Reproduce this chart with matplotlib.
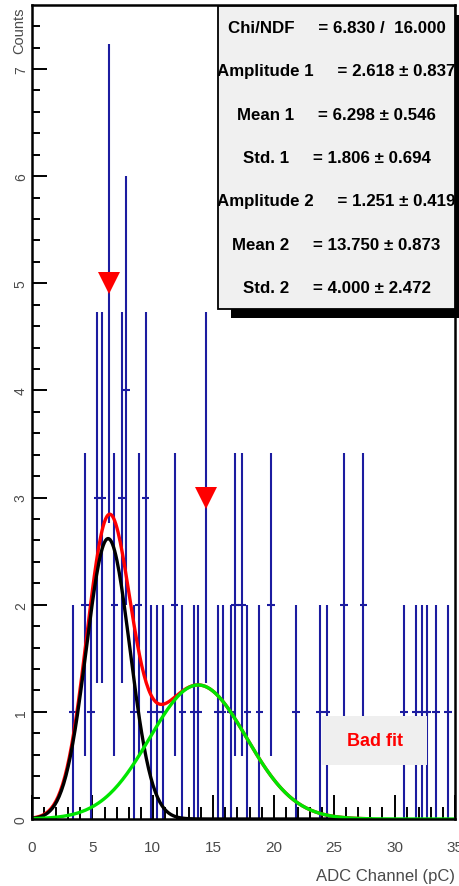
import numpy as np
import matplotlib
matplotlib.use("Agg")
import matplotlib.pyplot as plt
from matplotlib.patches import Rectangle
from matplotlib.ticker import MultipleLocator

plt.rcParams['font.family'] = ['Liberation Sans', 'DejaVu Sans']

# Histogram contents (bin centre in pC, entries per bin)
bin_centers = [3.37, 4.39, 4.88, 5.40, 5.79, 6.40, 6.81, 7.42, 7.78, 8.41,
               8.83, 9.41, 9.85, 10.32, 10.84, 11.81, 12.45, 13.40, 13.76, 14.40,
               15.39, 15.78, 16.44, 16.80, 17.38, 17.83, 18.81, 19.77, 21.84, 23.79,
               24.37, 25.82, 27.41, 30.78, 31.77, 32.27, 32.72, 33.43, 34.42]
counts = [1, 2, 1, 3, 3, 5, 2, 3, 4, 1,
          2, 3, 1, 1, 1, 2, 1, 1, 1, 3,
          1, 1, 1, 2, 2, 1, 1, 2, 1, 1,
          1, 2, 2, 1, 1, 1, 1, 1, 1]
bin_half_width = 0.3

# Peaks found by the peak search
peak_x = [6.40, 14.40]
peak_y = [5, 3]

# Double-gaussian fit result
chi2, ndf = 6.830, 16.000
param_names = ["Amplitude 1", "Mean 1", "Std. 1", "Amplitude 2", "Mean 2", "Std. 2"]
param_values = [2.618, 6.298, 1.806, 1.251, 13.750, 4.000]
param_errors = [0.837, 0.546, 0.694, 0.419, 0.873, 2.472]
fit_range = (0.0, 28.0)

x_ticks = [0, 5, 10, 15, 20, 25, 30, 35]
y_ticks = [0, 1, 2, 3, 4, 5, 6, 7]

W, H = 460, 887
BLUE = '#1c1ca0'
GRAY = '#4a4a4a'


def gauss(x, a, m, s):
    return a * np.exp(-0.5 * ((x - m) / s) ** 2)


def fx(px):
    return px / W


def fy(py):
    return 1 - py / H


fig = plt.figure(figsize=(W / 100, H / 100), dpi=100)
ax = fig.add_axes([fx(32), fy(820), (455 - 32) / W, (820 - 6) / H])

counts_arr = np.array(counts, dtype=float)
ax.errorbar(bin_centers, counts_arr, yerr=np.sqrt(counts_arr), xerr=bin_half_width,
            fmt='none', ecolor=BLUE, elinewidth=1.5, capsize=0, zorder=2)

a1, m1, s1, a2, m2, s2 = param_values
xf = np.linspace(fit_range[0], fit_range[1], 300)
xg = np.linspace(0, 35, 300)
ax.plot(xf, gauss(xf, a1, m1, s1) + gauss(xf, a2, m2, s2), color='red', lw=2.4, zorder=3)
ax.plot(xf, gauss(xf, a1, m1, s1), color='black', lw=2.4, zorder=3.1)
ax.plot(xg, gauss(xg, a2, m2, s2), color='#00e600', lw=2.4, zorder=3.2)

ax.plot(peak_x, peak_y, linestyle='none', marker='v', markersize=16,
        color='red', markeredgewidth=0, zorder=5)

# "Bad fit" flag
ax.add_patch(Rectangle((24.0, 0.5), 8.7, 0.46, facecolor='#efefef',
                       edgecolor='none', zorder=4))
ax.text(28.35, 0.73, "Bad fit", color='red', fontsize=13, fontweight='bold',
        ha='center', va='center', zorder=5)

ax.set_xlim(0, 35)
ax.set_ylim(0, 1.05 * (max(counts) + np.sqrt(max(counts))))

ax.xaxis.set_major_locator(MultipleLocator(5))
ax.xaxis.set_minor_locator(MultipleLocator(1))
ax.yaxis.set_minor_locator(MultipleLocator(0.2))
ax.set_xticks(x_ticks, labels=[str(v) for v in x_ticks])
ax.set_yticks(y_ticks, labels=[str(v) for v in y_ticks], rotation=90,
              va='center', ha='center')

ax.tick_params(axis='x', which='major', direction='in', length=17, width=1.4,
               pad=15, labelsize=11, labelcolor=GRAY, top=False)
ax.tick_params(axis='x', which='minor', direction='in', length=8.5, width=1.4, top=False)
ax.tick_params(axis='y', which='major', direction='in', length=11, width=1.4,
               pad=8, labelsize=10, labelcolor=GRAY, right=False)
ax.tick_params(axis='y', which='minor', direction='in', length=5.8, width=1.4, right=False)
for sp in ax.spines.values():
    sp.set_linewidth(1.8)
    sp.set_zorder(6)

fig.text(fx(455), fy(877), "ADC Channel (pC)", ha='right', va='center',
         fontsize=12, color=GRAY)
fig.text(fx(19), fy(7), "Counts", ha='center', va='top', rotation=90,
         fontsize=10.5, color=GRAY)

# Fit statistics box with drop shadow
bx0, by0, bx1, by1 = 218, 7, 455, 310
shadow = Rectangle((fx(bx0 + 13), fy(by1 + 9)), (bx1 - bx0) / W, (by1 - by0) / H,
                   transform=fig.transFigure, facecolor='black', edgecolor='none',
                   zorder=10)
box = Rectangle((fx(bx0), fy(by1)), (bx1 - bx0) / W, (by1 - by0) / H,
                transform=fig.transFigure, facecolor='#f0f0f0', edgecolor='black',
                linewidth=1.3, zorder=11)
fig.add_artist(shadow)
fig.add_artist(box)

rows = [f"Chi/NDF     = {chi2:.3f} /  {ndf:.3f}"]
rows += [f"{n}     = {v:.3f} \u00b1 {e:.3f}"
         for n, v, e in zip(param_names, param_values, param_errors)]
row_h = (by1 - by0) / len(rows)
for i, r in enumerate(rows):
    t = fig.text(fx((bx0 + bx1) / 2), fy(by0 + (i + 0.5) * row_h), r,
                 ha='center', va='center', fontsize=12.2, fontweight='bold',
                 color='black', zorder=12)
    t.set_clip_path(box)

fig.savefig("out.png", dpi=100)
